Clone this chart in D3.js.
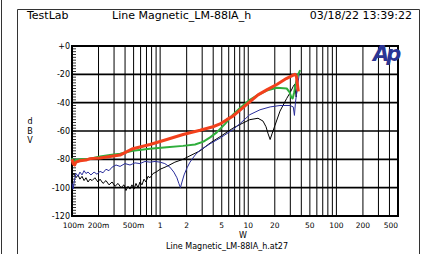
<!DOCTYPE html>
<html>
<head>
<meta charset="utf-8">
<script src="https://cdn.jsdelivr.net/npm/d3@7"></script>
<style>
  body { margin: 0; background: #fff; }
  svg { display: block; font-family: "DejaVu Sans", sans-serif; }
</style>
</head>
<body>
<div id="chart"></div>
<script>
// axis ticks
var xTicks = [0.1, 0.2, 0.5, 1, 2, 5, 10, 20, 50, 100, 200, 500];
var xTickLabels = ["100m", "200m", "500m", "1", "2", "5", "10", "20", "50", "100", "200", "500"];
var yTicks = [0, -20, -40, -60, -80, -100, -120];
var yTickLabels = ["+0", "-20", "-40", "-60", "-80", "-100", "-120"];

// series, [W, dBV]
var redData = [
  [0.1, -80], [0.103, -83], [0.107, -84], [0.111, -82], [0.123, -81], [0.144, -80.5],
  [0.16, -79.5], [0.208, -79], [0.27, -78], [0.351, -77], [0.49, -72.5], [0.767, -69.5],
  [1.19, -66], [1.82, -62.5], [2.84, -59.5], [3.98, -57], [4.79, -55], [5.7, -52],
  [6.7, -49.5], [8.0, -45.5], [10.4, -39.5], [12.9, -34.5], [16.2, -31], [21.3, -27],
  [27, -23], [32.4, -20.5], [33.8, -20], [35.2, -21.5], [36.1, -27], [37.0, -32]
];
var greenData = [
  [0.1, -79], [0.103, -82], [0.108, -80.5], [0.123, -80], [0.16, -79.5], [0.208, -78],
  [0.27, -77], [0.351, -76], [0.49, -74], [0.767, -72.5], [1.19, -71.5], [1.82, -70.5],
  [2.49, -69.5], [3.1, -67.5], [3.69, -64.5], [4.39, -61], [5.46, -55], [6.7, -48.5],
  [8.0, -44], [10.4, -38], [12.9, -34.5], [16.2, -31.5], [21, -29.5], [27.3, -30],
  [29.4, -32.5], [30.7, -36], [31.9, -37], [33.1, -33], [35, -25], [36.8, -20], [38.8, -17]
];
var blueData = [
  [0.1, -97], [0.103, -101], [0.107, -94], [0.111, -90], [0.117, -92], [0.123, -89],
  [0.13, -91], [0.137, -88], [0.144, -90], [0.152, -89], [0.164, -91], [0.178, -89],
  [0.192, -90.5], [0.208, -88.5], [0.225, -89.5], [0.243, -87], [0.263, -88], [0.285, -85.5],
  [0.316, -84], [0.351, -85], [0.399, -83], [0.455, -84], [0.519, -82.5], [0.59, -83],
  [0.673, -81.5], [0.767, -82], [0.875, -81.5], [1.0, -82], [1.13, -83], [1.29, -85.5],
  [1.43, -89], [1.55, -93], [1.63, -97], [1.7, -100], [1.77, -96], [1.87, -91],
  [2.02, -86], [2.18, -82], [2.49, -77], [2.84, -73.5], [3.69, -69], [4.79, -65],
  [6.7, -59], [8.0, -55], [10.4, -48.5], [13.6, -45], [17.7, -43], [22.9, -42],
  [29.8, -42], [32.4, -43], [33.4, -49], [34.3, -40], [35.9, -30], [38.1, -19]
];
var blackData = [
  [0.1, -92], [0.105, -90], [0.111, -93], [0.117, -91], [0.123, -94], [0.13, -92],
  [0.137, -95], [0.144, -93], [0.152, -96], [0.16, -94], [0.169, -95], [0.182, -93],
  [0.197, -96], [0.208, -94], [0.225, -97], [0.243, -95], [0.263, -98], [0.285, -96],
  [0.308, -99], [0.333, -97], [0.36, -100], [0.389, -98], [0.41, -102], [0.432, -99],
  [0.455, -101], [0.479, -98], [0.506, -101], [0.532, -97], [0.561, -100], [0.59, -96],
  [0.622, -98], [0.656, -94], [0.691, -96], [0.728, -92], [0.767, -93], [0.83, -90],
  [0.9, -89], [1.0, -87], [1.19, -85], [1.47, -82], [1.82, -80], [2.18, -77.5],
  [2.84, -74], [3.69, -68.5], [4.79, -64], [6.7, -58], [8.0, -55.5], [10.4, -52],
  [12.9, -51], [14.7, -53], [15.9, -57], [16.8, -62], [17.7, -66], [18.6, -62],
  [20.1, -56], [22.9, -46], [27.3, -37], [29.8, -33], [32.4, -28.5], [33.6, -27],
  [35.0, -36], [36.2, -28], [37.2, -31]
];

var titleLeft = "TestLab";
var titleMid = "Line Magnetic_LM-88IA_h";
var titleRight = "03/18/22 13:39:22";
var xTitle = "W";
var fileName = "Line Magnetic_LM-88IA_h.at27";

//////////////////////////////////////////////////////////////////////////////

var width = 429, height = 254;
var plot = { left: 72, right: 398, top: 46, bottom: 216 };

var svg = d3.select("#chart").append("svg")
  .attr("width", width)
  .attr("height", height);

var xScale = d3.scaleLog()
  .domain([0.1, 500])
  .range([plot.left, plot.right]);

var yScale = d3.scaleLinear()
  .domain([-120, 0])
  .range([plot.bottom, plot.top]);

// page frame
svg.append("line").attr("x1", 1.5).attr("x2", 1.5).attr("y1", 0).attr("y2", height)
  .attr("stroke", "#333").attr("stroke-width", 1);
svg.append("path")
  .attr("d", "M17.5," + height + "V9.5H419.5V" + height)
  .attr("fill", "none").attr("stroke", "#333").attr("stroke-width", 1);

// header
svg.append("text").attr("x", 27).attr("y", 19).attr("font-size", 11).text(titleLeft);
svg.append("text").attr("x", 112).attr("y", 19).attr("font-size", 11).text(titleMid);
svg.append("text").attr("x", 412).attr("y", 19).attr("font-size", 11)
  .attr("text-anchor", "end").text(titleRight);

// vertical grid
svg.append("g").selectAll("line")
  .data(xScale.ticks())
  .enter().append("line")
  .attr("x1", function(d) { return xScale(d); })
  .attr("x2", function(d) { return xScale(d); })
  .attr("y1", plot.top)
  .attr("y2", plot.bottom)
  .attr("stroke", "#000")
  .attr("stroke-width", 1);

// horizontal grid
svg.append("g").selectAll("line")
  .data(yTicks)
  .enter().append("line")
  .attr("x1", plot.left)
  .attr("x2", plot.right)
  .attr("y1", function(d) { return yScale(d); })
  .attr("y2", function(d) { return yScale(d); })
  .attr("stroke", "#000")
  .attr("stroke-width", 1.6);

// minor ticks on the left
svg.append("g").selectAll("line")
  .data(d3.range(0, -121, -2))
  .enter().append("line")
  .attr("x1", plot.left)
  .attr("x2", plot.left + 4)
  .attr("y1", function(d) { return yScale(d); })
  .attr("y2", function(d) { return yScale(d); })
  .attr("stroke", "#000")
  .attr("stroke-width", 0.8);

// frame
svg.append("rect")
  .attr("x", plot.left).attr("y", plot.top)
  .attr("width", plot.right - plot.left).attr("height", plot.bottom - plot.top)
  .attr("fill", "none").attr("stroke", "#000").attr("stroke-width", 2);

// Ap logo
svg.append("text").attr("x", 373).attr("y", 61)
  .attr("font-size", 21).attr("font-weight", "900").attr("font-style", "italic")
  .attr("font-family", "DejaVu Sans, sans-serif")
  .attr("letter-spacing", -3)
  .attr("fill", "#2b3594").text("Ap");

// curves
var line = d3.line()
  .x(function(d) { return xScale(d[0]); })
  .y(function(d) { return yScale(d[1]); });

var series = [
  { data: blackData, color: "#000", w: 1 },
  { data: blueData, color: "#2a2e9c", w: 1 },
  { data: greenData, color: "#2fae3c", w: 2 },
  { data: redData, color: "#f2401c", w: 3 }
];

series.forEach(function(s) {
  svg.append("path")
    .attr("d", line(s.data))
    .attr("fill", "none")
    .attr("stroke", s.color)
    .attr("stroke-width", s.w)
    .attr("stroke-linejoin", "round");
});

// y labels
svg.append("g").selectAll("text")
  .data(yTicks)
  .enter().append("text")
  .attr("x", plot.left - 2)
  .attr("y", function(d) { return yScale(d) + 3; })
  .attr("text-anchor", "end")
  .attr("font-size", 8)
  .text(function(d, i) { return yTickLabels[i]; });

// x labels
svg.append("g").selectAll("text")
  .data(xTicks)
  .enter().append("text")
  .attr("x", function(d, i) {
    var px = xScale(d);
    if (i == 0) return px + 1.5;
    if (i == 1) return px;
    if (i == xTicks.length - 1) return px - 7;
    return px;
  })
  .attr("y", 228)
  .attr("text-anchor", "middle")
  .attr("font-size", 7.5)
  .text(function(d, i) { return xTickLabels[i]; });

// dBV, stacked
svg.append("g").selectAll("text")
  .data(["d", "B", "V"])
  .enter().append("text")
  .attr("x", 30)
  .attr("y", function(d, i) { return 124 + i * 9.5; })
  .attr("text-anchor", "middle")
  .attr("font-size", 8)
  .text(function(d) { return d; });

svg.append("text").attr("x", 243).attr("y", 238)
  .attr("text-anchor", "middle").attr("font-size", 8).text(xTitle);
svg.append("text").attr("x", 227).attr("y", 249)
  .attr("text-anchor", "middle").attr("font-size", 8).text(fileName);
</script>
</body>
</html>
